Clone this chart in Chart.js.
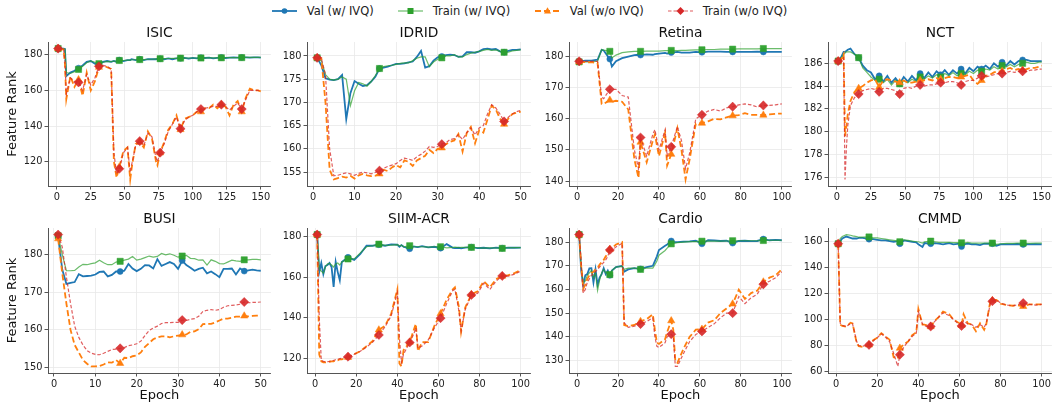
<!DOCTYPE html>
<html><head><meta charset="utf-8">
<script src="https://cdn.jsdelivr.net/npm/chart.js@4.4.1/dist/chart.umd.min.js"></script>
<style>
html,body{margin:0;padding:0;background:#fff;}
body{width:1056px;height:408px;overflow:hidden;position:relative;font-family:'DejaVu Sans',sans-serif;}
canvas{position:absolute;}
.lg{position:absolute;top:6px;}
.lt{position:absolute;top:4px;font-size:11.5px;line-height:14px;color:#222;white-space:nowrap;}
</style>
</head><body>
<svg class="lg" style="left:271.7px" width="26" height="10"><line x1="0" y1="5" x2="25" y2="5" stroke="#1f77b4" stroke-width="1.8"/><circle cx="12.5" cy="5" r="2.8" fill="#1f77b4"/></svg>
<span class="lt" style="left:306.7px">Val (w/ IVQ)</span>
<svg class="lg" style="left:398px" width="26" height="10"><line x1="0" y1="5" x2="25" y2="5" stroke="rgba(44,160,44,0.7)" stroke-width="1.2"/><rect x="9.5" y="2" width="6" height="6" fill="#2ca02c"/></svg>
<span class="lt" style="left:432.7px">Train (w/ IVQ)</span>
<svg class="lg" style="left:534.7px" width="26" height="10"><line x1="0" y1="5" x2="25" y2="5" stroke="#ff7f0e" stroke-width="1.8" stroke-dasharray="6 3"/><polygon points="12.5,1.3 16,7.4 9,7.4" fill="#ff7f0e"/></svg>
<span class="lt" style="left:569.7px">Val (w/o IVQ)</span>
<svg class="lg" style="left:668px" width="26" height="10"><line x1="0" y1="5" x2="25" y2="5" stroke="rgba(214,39,40,0.75)" stroke-width="1.2" stroke-dasharray="3.5 2"/><polygon points="12.5,1 16.5,5 12.5,9 8.5,5" fill="#d62728"/></svg>
<span class="lt" style="left:702.7px">Train (w/o IVQ)</span>
<script>
// ---------- DATA ----------
const ticks150 = [0,25,50,75,100,125,150];
const ticks100 = [0,20,40,60,80,100];
const ticks50 = [0,10,20,30,40,50];

// ISIC
const isicEpochs = [1,3,5,6,7,10,13,16,19,22,25,28,31,34,37,40,42,44,46,49,52,54,55,58,61,64,67,70,73,74,76,79,82,85,88,91,94,97,100,103,106,109,112,115,118,121,124,127,130,133,136,139,142,145,148,150];
const isicValIVQ = [183.5,183.5,183.5,183.3,168,170,171,172.5,174,176,176.5,175,174.5,176,176.5,176,176.5,176,177,176.5,177,177,177.5,177,177.5,177,177.5,177.5,177.5,177.8,177.8,177.5,178,177.5,178,178,178.3,177.8,178.3,178,178.4,178.2,178.4,178,178.3,178.5,178.2,178.4,178.5,178.4,178.5,178.5,178.4,178.5,178.5,178.4];
const isicTrainIVQ = [183.5,183.5,183.5,183,170,169.5,170.5,171.8,173.5,175.5,176.5,175.8,175,175.8,176.3,176.2,176.5,176.4,176.8,176.8,177,177,177.2,177.2,177.3,177.3,177.5,177.5,177.7,177.7,177.8,177.8,177.9,178,178,178.1,178.1,178.2,178.2,178.2,178.2,178.3,178.3,178.3,178.3,178.3,178.4,178.4,178.4,178.4,178.4,178.5,178.5,178.5,178.5,178.5];
const isicValNo = [183.5,183,183,175,155,168,162,166,157,170,160,165,173,174,173,172,120,111,117,126,128,110,116,130,131,128,137,133,120,118,125,131,138,141,146,138,144,145,146,148,148,150,150,152,150,152,151,146,152,154,148,156,161,160,160,159.5];
const isicTrainNo = [183.5,183.5,183,176,158,167,165,164.5,160,169,163,167,173.5,174,173.5,172,125,113,116,125,128,114,118,129,131.5,129,136,134,122,120,125,130,137,141,145,138.5,143,145,146,148,149.5,150,150.5,151,151,152,151,149,151,153,149.5,155,160,160,160,159.5];
const isicYTicks = [120,140,160,180];

// IDRID
const idridEpochs = [1,2,3,4,5,6,7,8,9,10,11,12,13,14,15,16,17,18,19,20,21,22,23,24,25,26,27,28,29,30,31,32,33,34,35,36,37,38,39,40,41,42,43,44,45,46,47,48,49,50];
const idridValIVQ = [179.6,178,175.2,174.9,174.8,175,175.9,166.4,172,174.6,174,173.5,173.7,174.5,175.5,177.3,177.5,177.7,178,178.3,178.3,178.4,178.6,178.8,179.8,181.1,177.5,177.8,179,179.7,179.9,180.2,180.3,180.2,179.8,179.9,180.8,180.8,180.7,181,181.5,181.6,181.4,181.5,181,180.8,181.1,181.3,181.3,181.4];
const idridTrainIVQ = [179.6,179,176,175,174.8,175,175.5,175,169.3,172.5,174.3,174,173.5,174.5,175.8,177.3,177.7,177.9,178,178.2,178.4,178.5,178.5,179,179.5,179.8,179.8,177.7,178.7,179.3,179.6,180,180,180.3,179.8,179.8,180.3,180.6,180.8,181,181.2,181.4,181.2,181.3,181,180.8,180.8,181.1,181.2,181.3];
const idridValNo = [179.6,179.5,170,155.5,153.4,153.7,154,153.8,154.2,153.6,154.3,154.6,154.3,154.1,154.2,154.6,155.5,155.2,156,156.5,156,157.5,157.2,156.3,157.5,158,158.5,159.8,159.1,160,160.2,161,161.5,161.8,163.2,159.4,163.4,164.7,161.2,164,163.5,166.3,169.3,168.5,166.5,165.3,166.5,167.5,167.8,168];
const idridTrainNo = [179.6,179.5,176,160,154.2,154.3,154.6,154.8,154.6,154.3,154.7,155,154.8,154.6,154.9,155.3,155.8,156.2,156.5,156.8,157.5,158,157.8,157.5,158.3,158.8,159.5,160.5,160.3,160.5,161,161.3,162,162.2,163,162,163.5,164.5,163,164.5,165,167.5,169.5,168.8,167.5,165.9,166.8,167.5,168,168.3];
const idridYTicks = [155,160,165,170,175,180];

// Retina
const retinaEpochs = [1,4,7,10,12,13,16,17,19,22,25,28,30,31,34,37,38,40,43,44,46,49,51,53,55,58,61,64,67,70,73,76,79,82,85,88,91,94,97,100];
const retinaValIVQ = [178.5,178.7,178.7,179,182.2,182,179.2,176.8,178.5,179.5,180,180.5,180.6,180.5,180.7,180.6,180.8,181,181.2,181,181.3,181.5,181.3,181.3,181.3,181.5,181.4,181.6,181.6,181.6,181.5,181.5,181.5,181.5,181.5,181.6,181.5,181.5,181.5,181.5];
const retinaTrainIVQ = [178.3,178.3,178.3,178.5,182.3,182.1,181.7,179.6,180.5,181.3,181.5,181.7,181.7,181.7,181.8,181.8,181.8,181.8,181.9,181.9,182,181.9,182,182,182.1,182.2,182.2,182.3,182.3,182.4,182.4,182.4,182.5,182.5,182.5,182.5,182.6,182.6,182.6,182.6];
const retinaValNo = [178.3,178.2,178.2,178,164.8,164.8,166,165.5,165.8,165.5,163,147,141,152.5,146,153,155,148,155.5,145,148.6,157,150,140.5,147,158.5,158.6,159.2,160,159.8,160.5,161,161.2,161.8,161.3,161.3,161.2,161.4,161.6,161.7];
const retinaTrainNo = [178.5,178.5,178.5,178.5,167,166.5,169.5,169.5,169.5,167.5,167,150,144,154,148,155,156.5,150,156.5,148,151,157.5,153,144,149,160,161.3,162.5,163,162.5,163.5,163.9,164.5,164.8,164.5,163.8,164.3,164.3,164.5,164.8];
const retinaYTicks = [140,150,160,170,180];

// NCT
const nctEpochs = [1,3,5,6,7,8,10,13,16,19,22,25,28,31,34,37,40,43,46,49,52,55,58,61,64,67,70,73,76,79,82,85,88,91,94,97,100,103,106,109,112,115,118,121,124,127,130,133,136,139,142,145,148,150];
const nctValIVQ = [186.2,186.5,187,187,187.1,187.2,187.3,186.8,186.5,185.8,185.4,185.2,184.6,184.9,184.4,184.9,184.3,184.7,184.2,184.8,184.4,184.9,184.5,185.1,184.7,185.2,184.8,185.3,185,185.4,185,185.4,185.1,185.5,185.1,185.6,185.3,185.7,185.5,185.8,185.5,186,185.7,186.1,185.8,186.2,185.9,186.2,186.3,186.3,186.2,186.2,186.2,186.2];
const nctTrainIVQ = [186.2,186.4,186.8,186.9,187,187,187,186.8,186.5,185.6,185.2,184.8,184.5,184.6,184.3,184.6,184.1,184.5,184.2,184.5,184.3,184.6,184.4,184.8,184.6,184.9,184.7,185,184.8,185.1,184.9,185.2,184.9,185.1,185,185.3,185.1,185.4,185.3,185.5,185.4,185.7,185.5,185.8,185.7,185.9,185.7,185.9,186,186.1,186,186,186.1,186.1];
const nctValNo = [186.2,186.3,186.8,179.6,180.5,181.5,182.7,183.5,183.8,184,184.3,184.5,184.6,183.9,184.5,184.6,184.5,184.4,184.3,184.5,184.3,184.3,184.4,184.5,184.5,184.6,184.5,184.7,184.6,184.7,184.8,184.8,184.7,184.8,184.9,185,184.5,184.2,184.5,184.9,185,185.2,185.3,185.3,185.5,185.6,185.4,185.5,185.4,185.5,185.6,185.6,185.7,185.8];
const nctTrainNo = [186.2,186.3,186.5,175.8,178.5,180.5,182.3,183,183.3,183.6,183.7,183.8,183.7,183.5,183.8,183.8,183.7,183.6,183.3,183.8,183.9,183.8,184,184.1,184,184.1,184.1,184.2,184.3,184.3,184.4,184.4,184.3,184.1,184.4,184.5,184.5,184.7,184.9,184.8,184.9,185,185.1,185.1,185.2,185.3,185.2,185.3,185.3,185.3,185.4,185.4,185.5,185.5];
const nctYTicks = [176,178,180,182,184,186];

// BUSI
const busiEpochs = [1,2,3,4,5,6,7,8,9,10,11,12,13,14,15,16,17,18,19,20,21,22,23,24,25,26,27,28,29,30,31,32,33,34,35,36,37,38,39,40,41,42,43,44,45,46,47,48,49,50];
const busiValIVQ = [184.8,176,172.2,172.5,172.7,174.8,174.2,174.3,174.4,174.7,175.4,175.5,174.2,174.6,175.5,175.5,175.7,177.5,176.3,175.6,176.2,177.2,177.1,176.3,178.8,177,177.5,178,177.5,176.2,178.4,177.2,176.5,175.7,176.2,176.5,175,175.5,174.8,174,176.2,176.2,176.3,174.7,176.3,175.6,175.8,176,175.8,175.7];
const busiTrainIVQ = [185,180,175.7,175.7,175.8,176.7,177.4,177.3,177.6,177.8,178.5,177.8,177.3,177.3,178,178.2,178.5,178.8,179.5,178.5,178.8,179.2,179.6,179.3,179.5,180.3,179.9,180.2,179.8,179.3,179.6,179.8,179,178.9,178.5,178.6,177.2,178.6,178.2,177.6,177.5,178,178.5,178.3,178.2,178.6,178.6,178.7,178.7,178.6];
const busiValNo = [184.2,175,167,160,156,154,152,151,150.3,150.3,150.4,150.8,151.4,151.3,152,151.1,152.6,152.5,153,153.2,154,155.5,156.5,157.5,158,158.3,158.3,158,158.3,158.5,158.7,158.8,159.5,159.6,160.2,161.5,161.6,161.6,162,162.5,163,163,163.2,163.5,163.5,163.7,163.6,163.7,163.8,163.8];
const busiTrainNo = [185.3,182,174,167,161,158,156,154.5,153.8,153.5,153.4,153.8,154.3,154.8,154.9,155.1,155.3,155.8,156,156.3,157,158.5,159.8,160.5,161,161.7,161.9,161.9,162,162,162.6,162.5,162.8,163,163.6,164.9,165.2,165.4,165.2,165.4,166,166.4,166.5,166.6,166.8,167.4,167.2,167.3,167.3,167.4];
const busiYTicks = [150,160,170,180];

// SIIM-ACR
const siimEpochs = [1,2,3,4,5,6,7,8,9,10,11,12,13,16,19,22,25,28,31,34,37,40,41,42,43,46,48,49,50,52,55,58,61,64,67,68,70,71,73,76,79,82,85,88,91,94,97,100];
const siimValIVQ = [181,162.5,167,161.5,165.5,166,167,165,155.2,167.5,162.5,158.5,167.5,169.8,168.5,171.5,175.5,175.5,176,175.5,176.2,176,175,175.8,175,174,175.2,175,174.8,175.3,174.7,175,174.3,176.3,174.5,174.3,174.5,174.2,174.6,174.8,174.3,174.5,174.2,174.6,174.3,174.6,174.5,174.6];
const siimTrainIVQ = [181,164,163,162,165,166.5,166.8,166,165,166.5,167,166,167.5,169,169,172,175,175.5,176.3,175.7,175.8,176,175.5,175.8,175,175.5,175,175,175,175,174.8,175,175,174.5,174.7,174.8,174.6,174.7,174.7,174.7,174.5,174.3,174.5,174.4,174.2,174.5,174.6,174.6];
const siimValNo = [181,122,118.5,118,118,118,118.3,118.5,118.5,119,119,119.5,119.5,120.5,122,123.5,126,128.5,134,136,142,154,117.5,116,124,128,134,137,123.5,128,128,136,142,149,154,155,145,133,145,151.5,153,158,155,159,160.5,161,162,163.5];
const siimTrainNo = [181,140,119,118.5,118.3,118.3,118.5,118.8,119,119.3,119.5,119.8,120,120.8,122,123.5,125.5,128,131.5,135.5,141,152.5,130,118,122,127.8,132,135,125,126,129,135,139.8,147,153.5,154,143,133.5,144,151.2,152,157,154,158,160.6,160.5,161.5,163];
const siimYTicks = [120,140,160,180];

// Cardio
const cardioEpochs = [1,2,3,4,5,6,7,8,9,10,11,12,13,14,15,16,17,19,22,23,25,28,31,34,37,38,39,40,43,44,46,47,48,49,52,55,58,61,64,67,70,73,76,79,82,85,88,91,94,97,100];
const cardioValIVQ = [183.2,168,161.8,166,166.5,168.9,169,163,168.5,162,165,166.5,169,166.5,168,166,168,169.5,170,167.5,168.5,169,168.7,169.5,170,172,174,176.7,178.5,179,180.5,180,180,180,180.2,180.3,180.6,179.3,180.8,180.7,180.5,180.6,179.6,180.5,180.6,180.4,180.5,181.3,180.8,181,180.8];
const cardioTrainIVQ = [183.2,170,163,163.5,166,167,168,165,167,159.6,164,167,168.5,167,167.5,166.3,168,169.5,169.8,168.5,169,169,168.5,169,169,170.5,172,174.5,176.5,177.5,179.3,179.5,179.6,179.8,180,180.2,180.2,180.4,180.4,180.5,180.4,180.5,180.6,180.6,180.6,180.6,180.6,180.7,180.8,180.8,180.8];
const cardioValNo = [183.2,170,160.3,162,164.5,166,167,167.5,168.5,169,170.5,171.5,172.5,174,175,177,177.5,179,180,145,144.5,145,146.5,147.5,149.5,143,137.5,137,139,142,146.8,143,129.7,129,135,140,143,143.2,146,147,150,152,153.9,159.9,156,158.5,159.5,163.2,165,166,168.6];
const cardioTrainNo = [183.2,172,158.5,160,163,164.5,166,166.5,167.5,168.5,169.5,170.5,171.5,172.5,174,176.7,176.5,178,179.5,146,144,144.5,145.4,146.5,148,140,136,135.5,137.5,140,141.1,140,127.5,127.5,133,138,141,142.3,144,145.5,148,150,150,157,154,156.5,158,162.2,163.5,165,167.5];
const cardioYTicks = [130,140,150,160,170,180];

// CMMD
const cmmdEpochs = [1,2,3,5,7,8,10,11,13,16,18,20,22,24,26,28,30,31,33,35,37,39,40,42,43,46,48,50,52,55,57,60,61,62,64,66,68,70,72,73,75,76,78,80,83,86,88,91,94,97,100];
const cmmdValIVQ = [158,160,162,163.5,162.5,162,162,162.5,162.5,161.5,161.5,161,160.5,160.5,160,159.5,160,158,160.5,160,159.5,159,157.5,155.5,158.5,158,158.5,158,157.5,158.5,157.5,158,155.8,157.5,158,157.5,157.5,157,158,158,158,158,156.5,157.5,157.5,157.5,157.8,157.5,157.5,157.6,157.5];
const cmmdTrainIVQ = [158,162,163.5,165,164.5,164,163.5,163,163,163.2,162.5,162.5,162,161.5,161,160.5,160,159.5,161,160.5,160,159.5,159.5,158.5,159.5,160,159.5,159,159,159,158.8,158.8,158.7,158.5,159,158.5,158.5,158.5,158.5,158.5,158.5,158.5,157.5,158,158.3,158.3,158.5,158.5,158.3,158.5,158.5];
const cmmdValNo = [158,96,95,94.5,97.5,97,82,79.5,79,80.5,84,86,89.5,87,84.5,71,70,78,81,83,88,90,108,96,96,94.5,99,102,106,104,100,97,95.5,104,97,96,91,97,92,96,114,114.5,115,112,111,110.5,111,110,111.5,111.5,111.5];
const cmmdTrainNo = [158,97,95.5,94.5,97,96.5,83,80,79.5,80.5,83.5,86,89,86.5,83,74,64,73,79,83,87,89.5,106,96.5,95,94.6,98.5,102,105,103,100,96,95,99,96.5,96,94,96,94,97,112,114,115,112.5,111,110.5,111,112.5,111.5,111,111.5];
const cmmdYTicks = [60,80,100,120,140,160];

const seriesLabels = ['Val (w/ IVQ)','Train (w/ IVQ)','Val (w/o IVQ)','Train (w/o IVQ)'];

// ---------- LAYOUT / STYLE ----------
const FONT = "'DejaVu Sans', sans-serif";
const TOPH = 29;
const COLS = [{L:48,R:272,yw:48},{L:307,R:532,yw:40},{L:569,R:793,yw:40},{L:828,R:1053,yw:40}];
const ROWS = [{T:42,B:186,xh:22},{T:228,B:373,xh:35}];
const STYLES = [
  {color:'#1f77b4', point:'#1f77b4', width:1.8, dash:[], shape:'circle', r:3, order:4},
  {color:'rgba(44,160,44,0.7)', point:'rgba(44,160,44,0.95)', width:1.2, dash:[], shape:'rect', r:4.4, order:3},
  {color:'#ff7f0e', point:'#ff7f0e', width:1.8, dash:[6,3], shape:'triangle', r:4.2, order:2},
  {color:'rgba(214,39,40,0.75)', point:'rgba(214,39,40,0.9)', width:1.2, dash:[3.5,2], shape:'rectRot', r:4.6, order:1}
];

function panel(title, row, col, epochs, series, xTicks, yTicks) {
  const c = COLS[col], r = ROWS[row];
  const W = c.yw + (c.R - c.L) + 4, H = TOPH + (r.B - r.T) + r.xh;
  const cv = document.createElement('canvas');
  cv.width = W; cv.height = H;
  cv.style.left = (c.L - c.yw) + 'px'; cv.style.top = (r.T - TOPH) + 'px';
  cv.style.width = W + 'px'; cv.style.height = H + 'px';
  document.body.appendChild(cv);
  const all = [].concat(...series);
  const lo = Math.min(...all), hi = Math.max(...all), yp = (hi - lo) * 0.05;
  const x0 = epochs[0], x1 = epochs[epochs.length - 1], xp = (x1 - x0) * 0.05;
  const datasets = series.map((vals, k) => {
    const s = STYLES[k];
    return {
      label: seriesLabels[k],
      data: epochs.map((e, i) => ({x: e, y: vals[i]})),
      borderColor: s.color, backgroundColor: s.point,
      borderWidth: s.width, borderDash: s.dash,
      pointStyle: s.shape,
      pointRadius: ctx => (ctx.raw && (ctx.raw.x - 1) % 15 === 0) ? s.r : 0,
      pointBackgroundColor: s.point, pointBorderColor: s.point, pointBorderWidth: 0.5,
      pointHoverRadius: 0, pointHitRadius: 0,
      tension: 0, fill: false, order: s.order
    };
  });
  const tickFont = {size: 9.8, family: FONT};
  const gridCfg = {color: '#e9e9e9', lineWidth: 0.8, drawTicks: true, tickLength: 3.5, tickColor: '#555', tickWidth: 1};
  new Chart(cv, {
    type: 'line',
    data: {datasets},
    options: {
      responsive: false, animation: false, events: [],
      layout: {padding: {left: 0, top: 0, right: 4, bottom: 0}},
      plugins: {
        legend: {display: false}, tooltip: {enabled: false},
        title: {display: true, text: title, fullSize: false, color: '#111',
          font: {size: 13.8, family: FONT, weight: 'normal', lineHeight: 1.2},
          padding: {top: 12, bottom: 0.44}}
      },
      scales: {
        x: {
          type: 'linear', min: x0 - xp, max: x1 + xp,
          afterBuildTicks: s => { s.ticks = xTicks.map(v => ({value: v})); },
          afterFit: s => { s.height = r.xh; },
          ticks: {autoSkip: false, maxRotation: 0, font: tickFont, color: '#222', padding: 2, callback: v => String(v)},
          grid: gridCfg,
          border: {display: true, color: '#555', width: 1},
          title: {display: row === 1, text: 'Epoch', color: '#111', font: {size: 13, family: FONT}, padding: {top: 0, bottom: 5}}
        },
        y: {
          type: 'linear', min: lo - yp, max: hi + yp,
          afterBuildTicks: s => { s.ticks = yTicks.map(v => ({value: v})); },
          afterFit: s => { s.width = c.yw; },
          ticks: {autoSkip: false, font: tickFont, color: '#222', padding: 2, callback: v => String(v)},
          grid: gridCfg,
          border: {display: true, color: '#555', width: 1},
          title: {display: col === 0, text: 'Feature Rank', color: '#111', font: {size: 13, family: FONT}, padding: {top: 5, bottom: 0}}
        }
      }
    }
  });
}

panel('ISIC', 0, 0, isicEpochs, [isicValIVQ, isicTrainIVQ, isicValNo, isicTrainNo], ticks150, isicYTicks);
panel('IDRID', 0, 1, idridEpochs, [idridValIVQ, idridTrainIVQ, idridValNo, idridTrainNo], ticks50, idridYTicks);
panel('Retina', 0, 2, retinaEpochs, [retinaValIVQ, retinaTrainIVQ, retinaValNo, retinaTrainNo], ticks100, retinaYTicks);
panel('NCT', 0, 3, nctEpochs, [nctValIVQ, nctTrainIVQ, nctValNo, nctTrainNo], ticks150, nctYTicks);
panel('BUSI', 1, 0, busiEpochs, [busiValIVQ, busiTrainIVQ, busiValNo, busiTrainNo], ticks50, busiYTicks);
panel('SIIM-ACR', 1, 1, siimEpochs, [siimValIVQ, siimTrainIVQ, siimValNo, siimTrainNo], ticks100, siimYTicks);
panel('Cardio', 1, 2, cardioEpochs, [cardioValIVQ, cardioTrainIVQ, cardioValNo, cardioTrainNo], ticks100, cardioYTicks);
panel('CMMD', 1, 3, cmmdEpochs, [cmmdValIVQ, cmmdTrainIVQ, cmmdValNo, cmmdTrainNo], ticks100, cmmdYTicks);
</script>
</body></html>
